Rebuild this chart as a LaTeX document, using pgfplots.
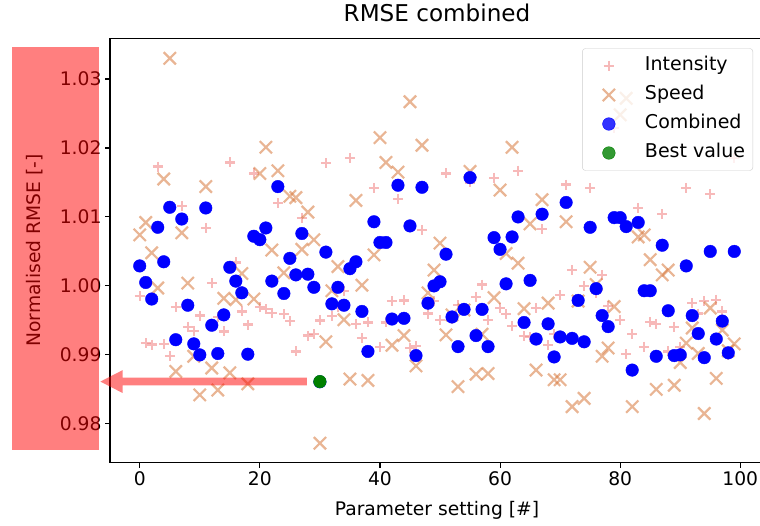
\documentclass[border=0pt]{standalone}
\usepackage{pgfplots}
\pgfplotsset{compat=1.18}
\usepackage{pgfplotstable}
\usetikzlibrary{calc}
\usepackage{fontspec}
\setmainfont{DejaVu Sans}
\definecolor{intcol}{RGB}{240,128,128}
\definecolor{spdcol}{RGB}{215,120,60}
\definecolor{bestgreen}{RGB}{0,128,0}
\pgfplotsset{lgmark/.style={legend image code/.code={\path[draw=none,fill=none] (0pt,-1pt) rectangle (50pt,1pt);\draw[mark repeat=2,mark phase=2,##1] plot coordinates {(0pt,0pt)(25pt,0pt)(50pt,0pt)};}}}
\pgfplotstableread{
i int spd comb
0 0.9985 1.0074 1.0029
1 0.9917 1.0092 1.0005
2 0.9915 1.0048 0.9981
3 1.0173 0.9997 1.0085
4 0.9916 1.0155 1.0035
5 0.9898 1.0330 1.0114
6 0.9969 0.9876 0.9922
7 1.0116 1.0077 1.0097
8 0.9941 1.0004 0.9972
9 0.9935 0.9898 0.9916
10 0.9957 0.9842 0.9900
11 1.0084 1.0144 1.0113
12 1.0004 0.9881 0.9943
13 0.9955 0.9849 0.9902
14 0.9934 0.9982 0.9958
15 1.0179 0.9874 1.0027
16 1.0034 0.9980 1.0007
17 0.9963 1.0018 0.9990
18 0.9944 0.9858 0.9901
19 1.0163 0.9981 1.0072
20 0.9970 1.0163 1.0067
21 0.9966 1.0201 1.0084
22 0.9961 1.0052 1.0007
23 1.0120 1.0167 1.0144
24 0.9959 1.0019 0.9989
25 0.9949 1.0130 1.0040
26 0.9905 1.0128 1.0016
27 1.0099 1.0053 1.0076
28 0.9928 1.0107 1.0017
29 0.9930 1.0067 0.9998
30 0.9950 0.9772 0.9861
31 1.0178 0.9919 1.0049
32 0.9956 0.9993 0.9974
33 0.9969 1.0028 0.9998
34 0.9993 0.9951 0.9972
35 1.0185 0.9865 1.0025
36 0.9945 1.0124 1.0035
37 0.9924 1.0001 0.9963
38 0.9947 0.9863 0.9905
39 1.0142 1.0045 1.0093
40 0.9911 1.0215 1.0063
41 0.9947 1.0179 1.0063
42 0.9978 0.9914 0.9952
43 1.0126 1.0165 1.0146
44 0.9979 0.9928 0.9953
45 0.9910 1.0267 1.0087
46 0.9913 0.9884 0.9899
47 1.0081 1.0204 1.0143
48 0.9960 0.9990 0.9975
49 0.9978 1.0023 1.0000
50 0.9951 1.0062 1.0006
51 1.0163 0.9929 1.0046
52 0.9952 0.9958 0.9955
53 0.9972 0.9854 0.9912
54 0.9967 0.9965 0.9966
55 1.0150 1.0166 1.0157
56 0.9984 0.9872 0.9928
57 1.0002 0.9930 0.9966
58 0.9951 0.9873 0.9912
59 1.0157 0.9983 1.0070
60 0.9968 1.0139 1.0053
61 0.9959 1.0047 1.0003
62 0.9942 1.0201 1.0071
63 1.0167 1.0033 1.0100
64 0.9927 0.9967 0.9947
65 0.9926 1.0090 1.0008
66 0.9968 0.9878 0.9923
67 1.0082 1.0125 1.0104
68 0.9914 0.9975 0.9945
69 0.9930 0.9864 0.9897
70 0.9987 0.9864 0.9926
71 1.0147 1.0093 1.0121
72 1.0023 0.9825 0.9924
73 0.9980 0.9978 0.9979
74 1.0000 0.9837 0.9919
75 1.0142 1.0027 1.0085
76 0.9990 1.0002 0.9996
77 1.0016 0.9898 0.9957
78 0.9971 0.9910 0.9941
79 1.0229 0.9970 1.0099
80 0.9951 1.0248 1.0099
81 0.9901 1.0272 1.0086
82 0.9930 0.9825 0.9878
83 1.0113 1.0071 1.0092
84 0.9912 1.0074 0.9993
85 0.9948 1.0038 0.9993
86 0.9945 0.9850 0.9898
87 1.0104 1.0016 1.0059
88 0.9905 1.0023 0.9964
89 0.9941 0.9856 0.9899
90 0.9911 0.9889 0.9900
91 1.0142 0.9917 1.0029
92 0.9975 0.9939 0.9957
93 0.9960 0.9902 0.9931
94 0.9978 0.9815 0.9896
95 1.0133 0.9968 1.0050
96 0.9980 0.9866 0.9923
97 0.9963 0.9936 0.9949
98 0.9900 0.9906 0.9903
99 1.0185 0.9916 1.0050
}\datatable
\begin{document}
\begin{tikzpicture}
\begin{axis}[
  at={(110pt,62.3pt)}, anchor=south west,
  scale only axis, width=654pt, height=424.4pt,
  xmin=-4.95, xmax=103.95, ymin=0.97437, ymax=1.0359,
  xtick={0,20,40,60,80,100},
  ytick={0.98,0.99,1.00,1.01,1.02,1.03},
  yticklabel style={/pgf/number format/.cd, fixed, fixed zerofill, precision=2},
  /pgf/number format/assume math mode=true,
  tick align=outside, tick pos=left,
  major tick length=5pt,
  axis line style={line width=1.1pt, black},
  every tick/.style={black, line width=1.1pt},
  ticklabel style={font=\fontsize{18.7}{22}\selectfont},
  label style={font=\fontsize{18.7}{22}\selectfont},
  xlabel={Parameter setting [\#]},
  ylabel={Normalised RMSE [-]},
  xlabel style={at={(axis description cs:0.5,0)}, anchor=base, yshift=-53pt},
  ylabel style={at={(axis description cs:-0.1147,0.5)}, anchor=center},
  title={RMSE combined},
  title style={font=\fontsize{23.1}{27}\selectfont, at={(axis description cs:0.5,1)}, anchor=base, yshift=10.6pt},
  legend cell align=left,
  legend style={at={(axis description cs:1,1)}, anchor=north east, xshift=-11pt, yshift=-10pt,
    draw=black!20, rounded corners=3pt, fill=white, fill opacity=0.8, text opacity=1,
    font=\fontsize{19}{22}\selectfont, row sep=11pt, inner xsep=1.5pt, inner ysep=8.5pt,
    nodes={text height=14pt, text depth=4pt, inner ysep=0pt, inner xsep=6.3pt},
    /tikz/every odd column/.append style={column sep=4.8pt}},
]
\addplot[only marks, lgmark, mark=+, mark size=5pt, color=intcol, mark options={line width=2.2pt, opacity=0.55}] table[x=i,y=int]{\datatable};
\addlegendentry{Intensity}
\addplot[only marks, lgmark, mark=x, mark size=8.7pt, color=spdcol, mark options={line width=2.2pt, opacity=0.55}] table[x=i,y=spd]{\datatable};
\addlegendentry{Speed}
\addplot[only marks, lgmark, mark=*, mark size=6.3pt, color=blue, mark options={draw=blue, fill=blue}] table[x=i,y=comb]{\datatable};
\addlegendentry{Combined}
\addplot[only marks, lgmark, mark=*, mark size=6.3pt, color=bestgreen, mark options={draw=bestgreen, fill=bestgreen}] coordinates {(30,0.98613)};
\addlegendentry{Best value}
\coordinate (rectA) at (axis cs:-21.28,1.03459);
\coordinate (rectB) at (axis cs:-6.83,0.97623);
\coordinate (arrTail) at (axis cs:27.83,0.98613);
\coordinate (arrHead) at (axis cs:-2.83,0.98613);
\coordinate (arrTip) at (axis cs:-6.55,0.98613);
\end{axis}
\fill[red, opacity=0.5] (rectA) rectangle (rectB);
\fill[red, opacity=0.5] ($(arrTail)+(0,3.85pt)$) -- ($(arrHead)+(0,3.85pt)$) -- ($(arrHead)+(0,11.5pt)$) -- (arrTip) -- ($(arrHead)+(0,-11.5pt)$) -- ($(arrHead)+(0,-3.85pt)$) -- ($(arrTail)+(0,-3.85pt)$) -- cycle;
\pgfresetboundingbox
\useasboundingbox (0,0) rectangle (760pt,525pt);
\end{tikzpicture}
\end{document}
